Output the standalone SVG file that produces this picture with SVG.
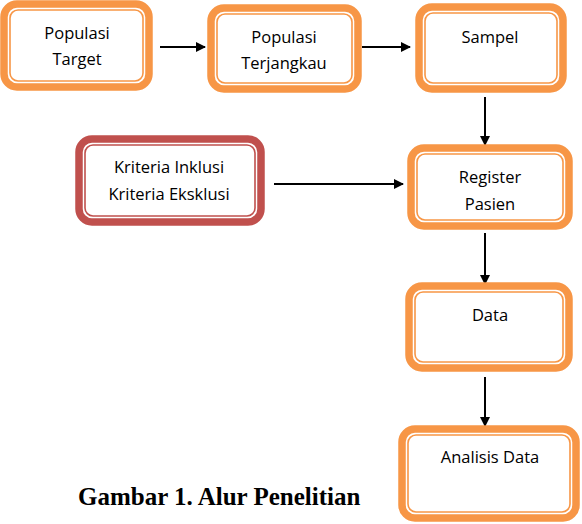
<svg xmlns="http://www.w3.org/2000/svg" width="582" height="524" viewBox="0 0 582 524">
<defs>
<marker id="ah" viewBox="0 0 10 10" refX="9" refY="5" markerWidth="10" markerHeight="10" markerUnits="userSpaceOnUse" orient="auto">
<path d="M0,0 L10,5 L0,10 z" fill="#000"/>
</marker>
<style>
.o{fill:#fff;stroke:#f79646;stroke-width:7.5}
.oi{fill:none;stroke:#f79646;stroke-width:1.6}
.r{fill:#fff;stroke:#c0504d;stroke-width:7.5}
.ri{fill:none;stroke:#c0504d;stroke-width:1.6}
.t{font-family:"Open Sans","Liberation Sans",sans-serif;font-size:16.5px;fill:#000;text-anchor:middle}
.c{stroke:#000;stroke-width:2;fill:none;marker-end:url(#ah)}
.cap{font-family:"Liberation Serif",serif;font-weight:bold;font-size:25px;fill:#000}
</style>
</defs>
<g id="connectors">
<line class="c" x1="160" y1="47" x2="205" y2="47"/>
<line class="c" x1="362" y1="47" x2="410" y2="47"/>
<line class="c" x1="485" y1="97" x2="485" y2="145"/>
<line class="c" x1="274" y1="184" x2="403" y2="184"/>
<line class="c" x1="485" y1="233" x2="485" y2="284"/>
<line class="c" x1="485" y1="377" x2="485" y2="426"/>
</g>
<g id="populasi-target">
<rect class="o" x="4" y="4" width="145" height="83" rx="13"/>
<rect class="oi" x="10" y="10" width="133" height="71" rx="8"/>
<text class="t" x="77" y="39">Populasi</text>
<text class="t" x="77" y="65">Target</text>
</g>
<g id="populasi-terjangkau">
<rect class="o" x="211" y="8" width="147" height="81" rx="13"/>
<rect class="oi" x="217" y="14" width="135" height="69" rx="8"/>
<text class="t" x="284" y="43">Populasi</text>
<text class="t" x="284" y="69">Terjangkau</text>
</g>
<g id="sampel">
<rect class="o" x="419" y="7" width="144" height="82" rx="13"/>
<rect class="oi" x="425" y="13" width="132" height="70" rx="8"/>
<text class="t" x="490" y="43">Sampel</text>
</g>
<g id="kriteria">
<rect class="r" x="79" y="139" width="182" height="83" rx="13"/>
<rect class="ri" x="85" y="145" width="170" height="71" rx="8"/>
<text class="t" x="169" y="173">Kriteria Inklusi</text>
<text class="t" x="169" y="200">Kriteria Eksklusi</text>
</g>
<g id="register-pasien">
<rect class="o" x="411" y="148" width="158" height="78" rx="13"/>
<rect class="oi" x="417" y="154" width="146" height="66" rx="8"/>
<text class="t" x="490" y="183">Register</text>
<text class="t" x="490" y="210">Pasien</text>
</g>
<g id="data">
<rect class="o" x="409" y="286" width="160" height="82" rx="13"/>
<rect class="oi" x="415" y="292" width="148" height="70" rx="8"/>
<text class="t" x="490" y="321">Data</text>
</g>
<g id="analisis-data">
<rect class="o" x="402" y="429" width="174" height="89" rx="13"/>
<rect class="oi" x="408" y="435" width="162" height="77" rx="8"/>
<text class="t" x="490" y="463">Analisis Data</text>
</g>
<text class="cap" x="78" y="505">Gambar 1. Alur Penelitian</text>
</svg>
